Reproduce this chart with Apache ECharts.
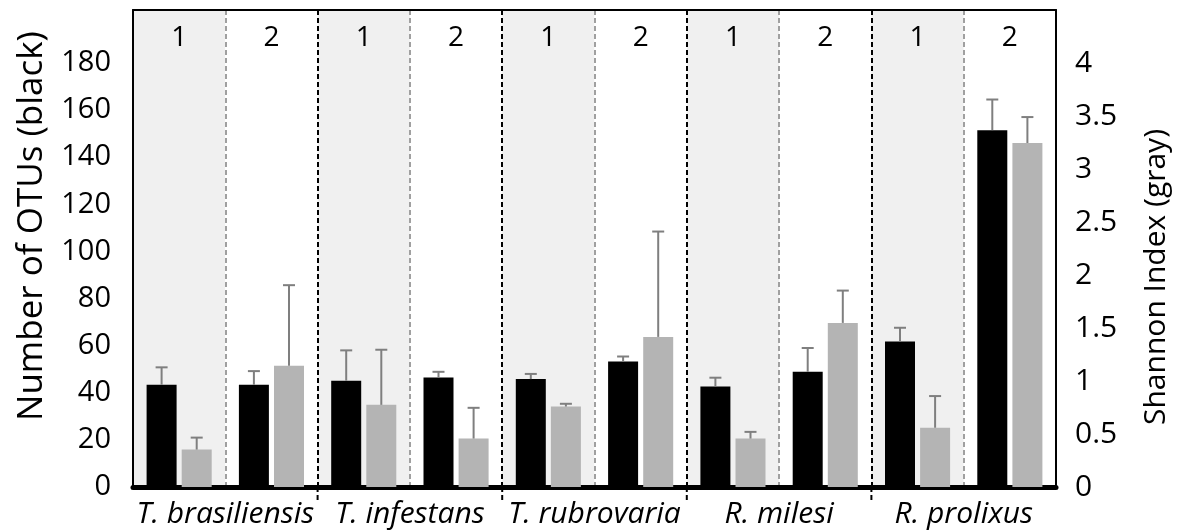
<!DOCTYPE html>
<html>
<head>
<meta charset="utf-8">
<script src="https://cdn.jsdelivr.net/npm/echarts@6/dist/echarts.min.js"></script>
<style>
html,body{margin:0;padding:0;background:#fff;}
#chart{width:1178px;height:531px;}
</style>
</head>
<body>
<div id="chart"></div>
<script>
// ---- data ----
const species = ['T. brasiliensis', 'T. infestans', 'T. rubrovaria', 'R. milesi', 'R. prolixus'];
const groups = ['1', '2', '1', '2', '1', '2', '1', '2', '1', '2'];
const otus = [43.4, 43.4, 45.1, 46.5, 45.8, 53.3, 42.7, 48.9, 61.8, 151.5];
const otusErr = [7.4, 5.8, 12.9, 2.4, 2.2, 2.1, 3.7, 10.1, 5.8, 13.0];
const shannon = [0.353, 1.144, 0.775, 0.457, 0.759, 1.416, 0.457, 1.548, 0.559, 3.245];
const shannonErr = [0.113, 0.76, 0.52, 0.29, 0.026, 0.994, 0.063, 0.305, 0.299, 0.245];
const leftTicks = [0, 20, 40, 60, 80, 100, 120, 140, 160, 180];
const rightTicks = [0, 0.5, 1, 1.5, 2, 2.5, 3, 3.5, 4];

// ---- styling ----
const FONT = 'Open Sans';
const BAR_W = 30;
const BAR_GAP = 0.17;
const cats = groups.map((g, i) => 'c' + i);
const speciesStart = groups.map((g, i) => i).filter(i => i > 0 && groups[i] === '1');

const chart = echarts.init(document.getElementById('chart'), null, {renderer: 'canvas'});

function errRender(sign) {
  return function (params, api) {
    const base = api.coord([api.value(0), api.value(1)]);
    const top = api.coord([api.value(0), api.value(1) + api.value(2)]);
    const x = base[0] + sign * (BAR_W + BAR_W * BAR_GAP) / 2;
    const st = {stroke: '#7f7f7f', lineWidth: 2};
    return {
      type: 'group',
      children: [
        {type: 'line', shape: {x1: x, y1: base[1], x2: x, y2: top[1]}, style: st},
        {type: 'line', shape: {x1: x - 6, y1: top[1], x2: x + 6, y2: top[1]}, style: st}
      ]
    };
  };
}

const option = {
  animation: false,
  grid: {left: 133, right: 122, top: 10, bottom: 44, containLabel: false},
  xAxis: [
    {
      type: 'category', data: cats, position: 'bottom', boundaryGap: true,
      axisLine: {show: true, onZero: false, lineStyle: {color: '#000', width: 5}},
      axisTick: {show: false},
      axisLabel: {show: false},
      splitLine: {show: true, interval: 0, lineStyle: {color: ['#000', '#a0a0a0'], width: 2, type: [5, 3]}},
      splitArea: {show: true, interval: 0, areaStyle: {color: ['#f0f0f0', '#ffffff']}}
    },
    {
      type: 'category', data: groups, position: 'top', boundaryGap: true,
      axisLine: {show: true, onZero: false, lineStyle: {color: '#000', width: 2}},
      axisTick: {show: false},
      axisLabel: {inside: true, margin: 14, color: '#000', fontSize: 28, fontFamily: FONT, interval: 0},
      splitLine: {show: false}
    },
    {
      type: 'category', data: species, position: 'bottom', boundaryGap: true,
      axisLine: {show: false}, axisTick: {show: false},
      axisLabel: {margin: 12, color: '#000', fontSize: 30, fontStyle: 'italic', fontFamily: FONT, interval: 0},
      splitLine: {show: false}
    }
  ],
  yAxis: [
    {
      type: 'value', min: 0, max: 202.5, interval: 20, position: 'left',
      axisLine: {show: true, lineStyle: {color: '#000', width: 2}},
      axisTick: {show: false}, splitLine: {show: false},
      axisLabel: {
        margin: 22, color: '#000', fontSize: 29, fontFamily: FONT,
        formatter: v => leftTicks.indexOf(v) >= 0 ? String(v) : ''
      }
    },
    {
      type: 'value', min: 0, max: 4.5, interval: 0.5, position: 'right',
      axisLine: {show: true, lineStyle: {color: '#000', width: 2}},
      axisTick: {show: false}, splitLine: {show: false},
      axisLabel: {
        margin: 19, color: '#000', fontSize: 30, fontFamily: FONT,
        formatter: v => rightTicks.indexOf(v) >= 0 ? String(v) : ''
      }
    }
  ],
  graphic: [
    {type: 'text', x: 32, y: 226, rotation: Math.PI / 2,
     style: {text: 'Number of OTUs (black)', font: '35px "Open Sans"', fill: '#000', align: 'center', verticalAlign: 'middle'}},
    {type: 'text', x: 1156, y: 277, rotation: Math.PI / 2,
     style: {text: 'Shannon Index (gray)', font: '30px "Open Sans"', fill: '#000', align: 'center', verticalAlign: 'middle'}}
  ],
  series: [
    {type: 'bar', name: 'OTUs', xAxisIndex: 0, yAxisIndex: 0, data: otus,
     barWidth: BAR_W, barGap: (BAR_GAP * 100) + '%', itemStyle: {color: '#000'}},
    {type: 'bar', name: 'Shannon', xAxisIndex: 0, yAxisIndex: 1, data: shannon,
     barWidth: BAR_W, barGap: (BAR_GAP * 100) + '%', itemStyle: {color: '#b4b4b4'}},
    {type: 'custom', xAxisIndex: 0, yAxisIndex: 0, renderItem: errRender(-1), z: 3,
     data: otus.map((v, i) => [i, v, otusErr[i]])},
    {type: 'custom', xAxisIndex: 0, yAxisIndex: 1, renderItem: errRender(1), z: 3,
     data: shannon.map((v, i) => [i, v, shannonErr[i]])},
    {type: 'custom', xAxisIndex: 0, yAxisIndex: 0, clip: false, z: 3,
     data: speciesStart.map(i => [i, 0]),
     renderItem: function (params, api) {
       const c = api.coord([api.value(0), 0]);
       const w = api.size([1, 0])[0];
       const x = c[0] - w / 2;
       return {type: 'line', shape: {x1: x, y1: c[1], x2: x, y2: c[1] + 14},
               style: {stroke: '#000', lineWidth: 2, lineDash: [5, 3]}};
     }}
  ]
};
chart.setOption(option);
</script>
</body>
</html>
